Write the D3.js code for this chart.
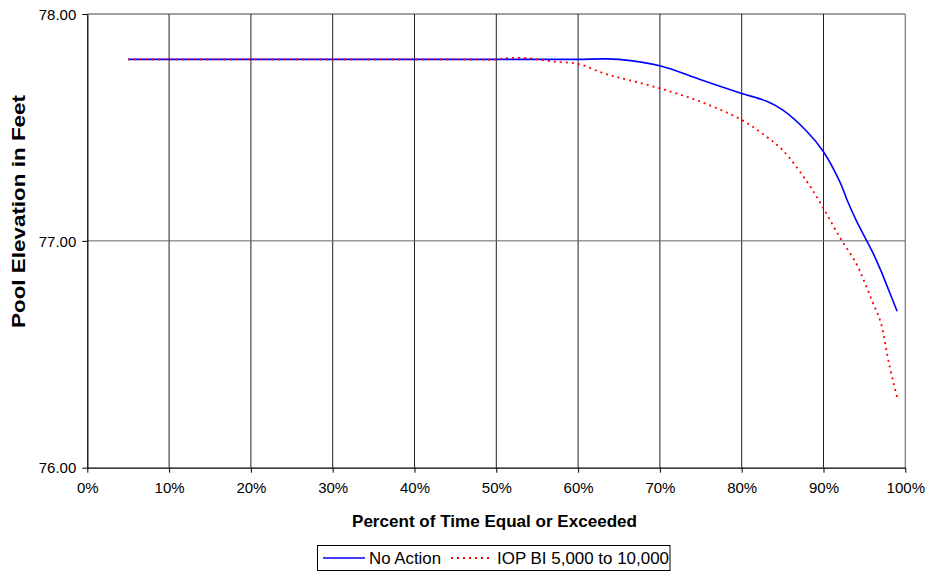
<!DOCTYPE html>
<html><head><meta charset="utf-8">
<script src="https://cdn.jsdelivr.net/npm/d3@7"></script>
<style>body{margin:0;background:#fff;} svg{display:block;font-family:"Liberation Sans",Arial,sans-serif;}</style>
</head><body><svg id="c" width="932" height="573"></svg>
<script>
const blueX = [5,10,15,20,25,30,35,40,45,50,55,60,63,65,70,75,80,83,85,88,90,92,93,94,95,96,97,98,99];
const blueY = [77.80,77.80,77.80,77.80,77.80,77.80,77.80,77.80,77.80,77.80,77.80,77.80,77.802,77.80,77.772,77.71,77.65,77.616,77.577,77.481,77.393,77.26,77.17,77.09,77.02,76.95,76.87,76.78,76.69];
const redX = [5,10,15,20,25,30,35,40,45,50,51,54,55,57,60,63,65,70,75,80,83,85,88,90,92,94,95,96,97,98,99];
const redY = [77.80,77.80,77.80,77.80,77.80,77.80,77.80,77.80,77.80,77.80,77.805,77.805,77.80,77.79,77.78,77.74,77.72,77.672,77.613,77.533,77.46,77.40,77.26,77.143,77.015,76.90,76.82,76.73,76.64,76.46,76.31];
const xTicks = [0,10,20,30,40,50,60,70,80,90,100];
const yTicks = [76,77,78];
const seriesNames = ["No Action","IOP BI 5,000 to 10,000"];

const svg = d3.select("#c");
const L=87.3, R=905.3, T=14, B=467.7;
const x = d3.scaleLinear().domain([0,100]).range([L,R]);
const y = d3.scaleLinear().domain([76,78]).range([B,T]);

svg.append("line").attr("x1",L).attr("x2",R).attr("y1",T).attr("y2",T).attr("stroke","#808080").attr("stroke-width",1.3);
svg.append("line").attr("x1",R).attr("x2",R).attr("y1",T).attr("y2",B).attr("stroke","#808080").attr("stroke-width",1.3);

svg.append("g").selectAll("line").data(xTicks.filter(d=>d>0&&d<100)).join("line")
  .attr("x1",d=>x(d)).attr("x2",d=>x(d)).attr("y1",T).attr("y2",B).attr("stroke","#222").attr("stroke-width",1);
svg.append("g").selectAll("line").data(yTicks.filter(d=>d>76&&d<78)).join("line")
  .attr("x1",L).attr("x2",R).attr("y1",d=>y(d)).attr("y2",d=>y(d)).attr("stroke","#666").attr("stroke-width",1);

const xa = svg.append("g").attr("transform",`translate(0,${B})`)
  .call(d3.axisBottom(x).tickValues(xTicks).tickFormat(d=>d+"%").tickSizeInner(5).tickSizeOuter(0).tickPadding(10));
const ya = svg.append("g").attr("transform",`translate(${L},0)`)
  .call(d3.axisLeft(y).tickValues(yTicks).tickFormat(d3.format(".2f")).tickSizeInner(5).tickSizeOuter(0).tickPadding(6));
[xa,ya].forEach(g=>{
  g.select(".domain").attr("stroke","#000").attr("stroke-width",1.3);
  g.selectAll(".tick line").attr("stroke","#000");
  g.selectAll("text").attr("font-size",15).attr("fill","#000").attr("font-family","Liberation Sans, Arial, sans-serif");
});
ya.selectAll("text").attr("dy","0.35em");

const line = d3.line().x(d=>x(d[0])).y(d=>y(d[1])).curve(d3.curveCatmullRom.alpha(0.5));
svg.append("path").datum(blueX.map((v,i)=>[v,blueY[i]])).attr("d",line)
  .attr("fill","none").attr("stroke","#0000ff").attr("stroke-width",1.6);
svg.append("path").datum(redX.map((v,i)=>[v,redY[i]])).attr("d",line)
  .attr("fill","none").attr("stroke","#ff0000").attr("stroke-width",1.8).attr("stroke-dasharray","2,4");

svg.append("text").attr("x",352).attr("y",527)
  .attr("font-size",17).attr("font-weight","bold").attr("textLength",285).attr("lengthAdjust","spacingAndGlyphs")
  .text("Percent of Time Equal or Exceeded");
svg.append("text").attr("transform",`translate(25,328) rotate(-90)`)
  .attr("font-size",18.5).attr("font-weight","bold").attr("textLength",233).attr("lengthAdjust","spacingAndGlyphs")
  .text("Pool Elevation in Feet");

const lg = svg.append("g");
lg.append("rect").attr("x",317.5).attr("y",545.5).attr("width",352.5).attr("height",25).attr("fill","#fff").attr("stroke","#000").attr("stroke-width",1);
lg.append("line").attr("x1",323).attr("x2",365).attr("y1",558).attr("y2",558).attr("stroke","#0000ff").attr("stroke-width",1.6);
lg.append("text").attr("x",369).attr("y",564).attr("font-size",17).attr("textLength",72).attr("lengthAdjust","spacingAndGlyphs").text(seriesNames[0]);
lg.append("line").attr("x1",451).attr("x2",493).attr("y1",558).attr("y2",558).attr("stroke","#ff0000").attr("stroke-width",1.8).attr("stroke-dasharray","2,4");
lg.append("text").attr("x",497).attr("y",564).attr("font-size",17).attr("textLength",172).attr("lengthAdjust","spacingAndGlyphs").text(seriesNames[1]);
</script></body></html>
